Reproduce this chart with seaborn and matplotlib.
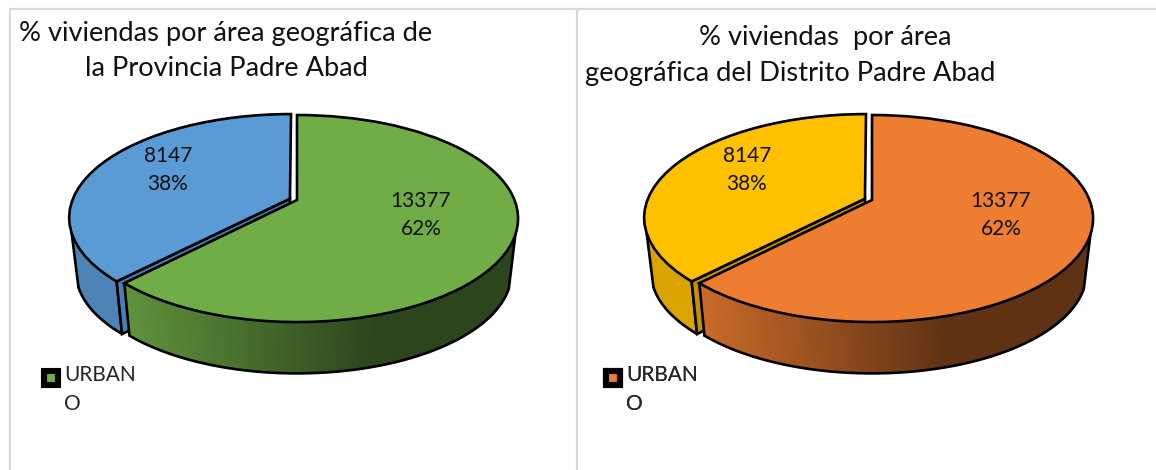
import numpy as np
import seaborn as sns
import matplotlib
matplotlib.use("Agg")
import matplotlib.pyplot as plt
from matplotlib.lines import Line2D
from matplotlib.transforms import Transform

# ---- Data ----
areas = ["URBANO", "RURAL"]
viviendas_provincia = [13377, 8147]
viviendas_distrito = [13377, 8147]
titulo_provincia = ["% viviendas por área geográfica de", "la Provincia Padre Abad"]
titulo_distrito = ["% viviendas  por área", "geográfica del Distrito Padre Abad"]
leyenda = "URBAN\nO"

# ---- Look ----
sns.set_theme(style="white")
plt.rcParams["font.family"] = ["Lato", "DejaVu Sans"]
GRID = "#d9d9d9"
EDGE = "black"
LW = 1.9
WIDTH, HEIGHT = 1156, 470

# perspective of the tilted disc, in pixels
A, K, P = 217.5, 100.2, -0.179
Y0 = 200
DEPTH, SHRINK = 55, 0.97
EXPLODE = 0.035
SILHOUETTE = 109   # clockwise degrees where the side wall starts to show


def project(u, v, x0, low=False):
    #Unit pie coordinates to pixels, low=True gives the lower disc
    down = -np.asarray(v, dtype=float)
    s = 1 / (1 + P * down)
    scale = SHRINK if low else 1
    y_shift = DEPTH if low else 0
    return x0 + scale * A * np.asarray(u) * s, Y0 + y_shift + scale * K * down * s


class DiscTransform(Transform):
    input_dims = 2
    output_dims = 2
    has_inverse = False

    def __init__(self, x0):
        super().__init__()
        self.x0 = x0

    def transform_non_affine(self, values):
        values = np.asarray(values)
        x, y = project(values[:, 0], values[:, 1], self.x0)
        return np.column_stack([x, y])


def rim(deg, x0, off=(0, 0), low=False):
    rad = np.radians(deg)
    return project(np.sin(rad) + off[0], np.cos(rad) + off[1], x0, low)


def wall(ax, deg1, deg2, x0, color, z, off=(0, 0)):
    #Side wall drawn as thin slices, darker towards the right
    base = np.array(matplotlib.colors.to_rgb(color))
    steps = np.linspace(deg1, deg2, max(int(abs(deg2 - deg1) * 2), 2))
    for a, b in zip(steps[:-1], steps[1:]):
        xt, yt = rim(np.array([a, b]), x0, off)
        xb, yb = rim(np.array([b, a]), x0, off, low=True)
        shade = np.interp((xt.mean() + xb.mean()) / 2 - x0, [-170, 75], [0.85, 0.40])
        c = tuple(base * shade)
        ax.fill(np.r_[xt, xb], np.r_[yt, yb], color=c, lw=1.0, zorder=z)
    xb, yb = rim(steps, x0, off, low=True)
    ax.plot(xb, yb, color=EDGE, lw=LW, zorder=z + 0.1, solid_capstyle="round")
    for d in (deg1, deg2):
        xt, yt = rim(d, x0, off)
        xl, yl = rim(d, x0, off, low=True)
        ax.plot([xt, xl], [yt, yl], color=EDGE, lw=LW, zorder=z + 0.1)


def disc(ax, valores, x0, colores, titulo, titulo_pos, texto_pos, leg_pos):
    total = sum(valores)
    giro = 360 * valores[0] / total
    mid = np.radians((giro + 360) / 2)
    off = (EXPLODE * np.sin(mid), EXPLODE * np.cos(mid))

    # walls first, top faces over them
    wall(ax, giro, 360 - SILHOUETTE, x0, colores[1], 1, off)
    # cut face of the exploded slice seen through the gap
    xa, ya = project(off[0], off[1], x0)
    xa2, ya2 = project(off[0], off[1], x0, low=True)
    xt, yt = rim(giro, x0, off)
    xl, yl = rim(giro, x0, off, low=True)
    ax.fill([xa, xt, xl, xa2], [ya, yt, yl, ya2], facecolor="#4a7fb5" if colores[1] == "#5B9BD5" else "#c49000",
            edgecolor=EDGE, lw=LW, zorder=1.5)
    wall(ax, SILHOUETTE, giro, x0, colores[0], 2)

    wedges, _ = ax.pie(valores, colors=colores, startangle=90, counterclock=False,
                       explode=[0, EXPLODE], radius=1,
                       wedgeprops={"edgecolor": EDGE, "linewidth": LW, "zorder": 3})
    for w in wedges:
        w.set_transform(DiscTransform(x0) + ax.transData)
        w.set_zorder(3)

    for linea, (tx, ty) in zip(titulo, titulo_pos):
        ax.text(tx, ty, linea, fontsize=TITLE_SIZE, color="#111111", ha="left", va="center")
    for v, (tx, ty) in zip(valores, texto_pos):
        ax.text(tx, ty, f"{v}\n{100 * v / total:.0f}%", fontsize=LABEL_SIZE, color="#111111",
                ha="center", va="center", linespacing=1.55, zorder=5)

    handle = Line2D([], [], linestyle="none", marker="s", markersize=10, markeredgewidth=4.4,
                    markerfacecolor=colores[0], markeredgecolor="black")
    leg = ax.legend([handle], [leyenda], loc="upper left", bbox_to_anchor=leg_pos,
                    bbox_transform=ax.transData, frameon=False, fontsize=LABEL_SIZE,
                    handlelength=1.0, handletextpad=0.1, borderpad=0, borderaxespad=0,
                    labelspacing=0)
    leg.get_texts()[0].set_linespacing(1.55)
    h = leg.legend_handles[0]
    h.set_ydata(np.asarray(h.get_ydata()) + 9)
    ax.add_artist(leg)
    return leg


TITLE_SIZE = 19.6
LABEL_SIZE = 15

fig, ax = plt.subplots(figsize=(WIDTH / 100, HEIGHT / 100), dpi=100)
fig.subplots_adjust(0, 0, 1, 1)

disc(ax, viviendas_provincia, 297, ["#70AD47", "#5B9BD5"], titulo_provincia,
     [(19, 33), (85, 68)], [(421, 215), (168, 170)], (41, 365))
disc(ax, viviendas_distrito, 872, ["#ED7D31", "#FFC000"], titulo_distrito,
     [(699, 38), (585, 74)], [(1001, 215), (747, 170)], (603, 365))

# panel borders
ax.plot([10, 10], [470, 9], color=GRID, lw=1.6, zorder=0)
ax.plot([10, 1156], [9, 9], color=GRID, lw=1.6, zorder=0)
ax.plot([577, 577], [470, 9], color=GRID, lw=1.6, zorder=0)

ax.set_aspect("auto")
ax.set_xlim(0, WIDTH)
ax.set_ylim(HEIGHT, 0)
ax.axis("off")

fig.savefig("out.png", dpi=100)
